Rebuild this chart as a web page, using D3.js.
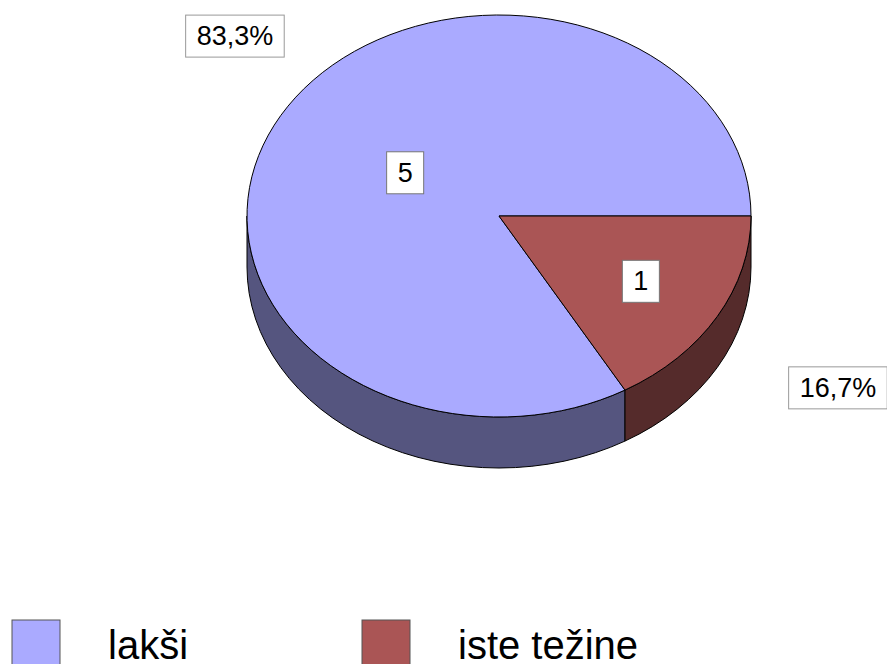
<!DOCTYPE html>
<html>
<head>
<meta charset="utf-8">
<script src="https://cdn.jsdelivr.net/npm/d3@7"></script>
<style>
  html, body { margin: 0; padding: 0; background: #fff; overflow: hidden; }
  svg { display: block; font-family: "Liberation Sans", Arial, sans-serif; }
</style>
</head>
<body>
<div id="chart"></div>
<script>
// Chart data
const categories = ['lakši', 'iste težine'];
const counts = [5, 1];
const percentLabels = ['83,3%', '16,7%'];

const topColors = ['#aaaaff', '#aa5555'];
const sideColors = ['#55557f', '#552b2b'];

const width = 887, height = 664;

// ellipse geometry of the 3D pie
const cx = 499, cy = 216, rx = 252, ry = 201, depth = 51;

const svg = d3.select('#chart').append('svg')
    .attr('width', width)
    .attr('height', height);

// d3 angle: 0 = 12 o'clock, clockwise
const pie = d3.pie()
    .sort(null)
    .value(d => d)
    .startAngle(5 * Math.PI / 6)
    .endAngle(5 * Math.PI / 6 + 2 * Math.PI);

const arcs = pie(counts);

function pt(a, dy) {
    return [cx + rx * Math.sin(a), cy - ry * Math.cos(a) + (dy || 0)];
}

function topPath(d) {
    const p0 = pt(d.startAngle), p1 = pt(d.endAngle);
    const large = (d.endAngle - d.startAngle) > Math.PI ? 1 : 0;
    return `M${cx},${cy}L${p0}A${rx},${ry} 0 ${large} 1 ${p1}Z`;
}

// the visible front wall: angles between PI/2 and 3PI/2 (mod 2PI)
function sidePath(d) {
    let out = '';
    [0, 2 * Math.PI].forEach(off => {
        const s = Math.max(d.startAngle, Math.PI / 2 + off);
        const e = Math.min(d.endAngle, 3 * Math.PI / 2 + off);
        if (e <= s) return;
        const a = pt(s), b = pt(e), b2 = pt(e, depth), a2 = pt(s, depth);
        out += `M${a}A${rx},${ry} 0 0 1 ${b}L${b2}A${rx},${ry} 0 0 0 ${a2}Z`;
    });
    return out;
}

const g = svg.append('g');

g.selectAll('path.side')
    .data(arcs)
    .enter().append('path')
    .attr('class', 'side')
    .attr('d', sidePath)
    .attr('fill', (d, i) => sideColors[i])
    .attr('stroke', '#000')
    .attr('stroke-width', 1)
    .attr('stroke-linejoin', 'round');

g.selectAll('path.top')
    .data(arcs)
    .enter().append('path')
    .attr('class', 'top')
    .attr('d', topPath)
    .attr('fill', (d, i) => topColors[i])
    .attr('stroke', '#000')
    .attr('stroke-width', 1)
    .attr('stroke-linejoin', 'round');

// boxed label helper
function boxLabel(x, y, text, fontSize, stroke) {
    const grp = svg.append('g');
    const t = grp.append('text')
        .attr('x', x).attr('y', y)
        .attr('text-anchor', 'middle')
        .attr('dominant-baseline', 'central')
        .attr('font-size', fontSize)
        .attr('fill', '#000')
        .text(text);
    const bb = t.node().getBBox();
    grp.insert('rect', 'text')
        .attr('x', x - bb.width / 2 - 11)
        .attr('y', y - 21)
        .attr('width', bb.width + 22)
        .attr('height', 42)
        .attr('fill', '#fff')
        .attr('stroke', stroke)
        .attr('stroke-width', 1);
}

// value labels inside slices (fraction of radius along mid angle)
const innerFrac = [0.43, 0.65];
arcs.forEach((d, i) => {
    const mid = (d.startAngle + d.endAngle) / 2;
    const x = cx + innerFrac[i] * rx * Math.sin(mid);
    const y = cy - innerFrac[i] * ry * Math.cos(mid);
    boxLabel(x, y, String(d.data), 27, '#777');
});

// percentage labels outside
const outerFrac = [[1.21, 1.79], [1.553, 1.71]];
arcs.forEach((d, i) => {
    const mid = (d.startAngle + d.endAngle) / 2;
    const x = cx + outerFrac[i][0] * rx * Math.sin(mid);
    const y = cy - outerFrac[i][1] * ry * Math.cos(mid);
    boxLabel(x, y, percentLabels[i], 27, '#999');
});

// legend
const legendX = d3.scalePoint().domain(categories).range([12, 362]);
const lg = svg.selectAll('g.legend')
    .data(categories)
    .enter().append('g')
    .attr('class', 'legend')
    .attr('transform', d => `translate(${legendX(d)},620)`);

lg.append('rect')
    .attr('width', 48).attr('height', 48)
    .attr('fill', (d, i) => topColors[i])
    .attr('stroke', '#555')
    .attr('stroke-width', 1);

lg.append('text')
    .attr('x', 96)
    .attr('y', 39)
    .attr('font-size', 40)
    .attr('fill', '#000')
    .text(d => d);
</script>
</body>
</html>
